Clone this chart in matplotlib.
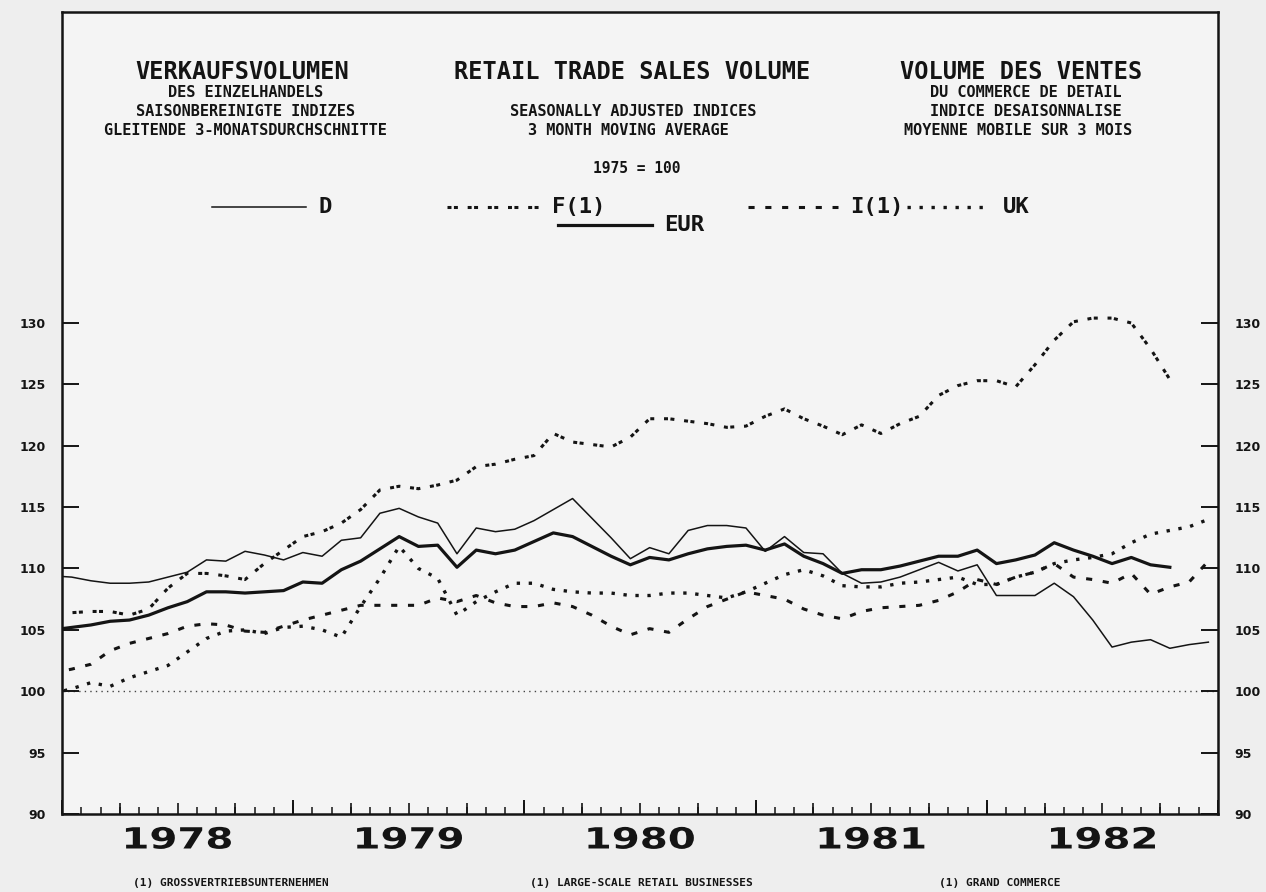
import numpy as np
import matplotlib
matplotlib.use("Agg")
import matplotlib.pyplot as plt
from matplotlib.lines import Line2D
from matplotlib.patheffects import AbstractPathEffect
from matplotlib.transforms import Affine2D

# ---------------- data (monthly, 3-month moving averages, 1975 = 100) ----------------
# first value = Dec 1977 (mid-month), then one value per month
year_labels = ["1978", "1979", "1980", "1981", "1982"]
y_ticks = [90, 95, 100, 105, 110, 115, 120, 125, 130]

D = [109.4, 109.3, 109.0, 108.8, 108.8, 108.9, 109.3, 109.7, 110.7, 110.6, 111.4, 111.1,
     110.7, 111.3, 111.0, 112.3, 112.5, 114.5, 114.9, 114.2, 113.7, 111.2, 113.3, 113.0,
     113.2, 113.9, 114.8, 115.7, 114.1, 112.5, 110.8, 111.7, 111.2, 113.1, 113.5, 113.5,
     113.3, 111.4, 112.6, 111.3, 111.2, 109.6, 108.8, 108.9, 109.3, 109.9, 110.5, 109.8,
     110.3, 107.8, 107.8, 107.8, 108.8, 107.7, 105.8, 103.6, 104.0, 104.2, 103.5, 103.8,
     104.0]

EUR = [105.0, 105.2, 105.4, 105.7, 105.8, 106.2, 106.8, 107.3, 108.1, 108.1, 108.0, 108.1,
       108.2, 108.9, 108.8, 109.9, 110.6, 111.6, 112.6, 111.8, 111.9, 110.1, 111.5, 111.2,
       111.5, 112.2, 112.9, 112.6, 111.8, 111.0, 110.3, 110.9, 110.7, 111.2, 111.6, 111.8,
       111.9, 111.5, 112.0, 111.0, 110.4, 109.6, 109.9, 109.9, 110.2, 110.6, 111.0, 111.0,
       111.5, 110.4, 110.7, 111.1, 112.1, 111.5, 111.0, 110.4, 110.9, 110.3, 110.1]

F1 = [106.5, 106.4, 106.5, 106.5, 106.2, 106.7, 108.4, 109.6, 109.6, 109.4, 109.1, 110.4,
      111.5, 112.6, 113.0, 113.7, 114.8, 116.4, 116.7, 116.5, 116.8, 117.2, 118.3, 118.5,
      118.9, 119.2, 121.0, 120.3, 120.1, 119.9, 120.7, 122.2, 122.2, 122.0, 121.8, 121.5,
      121.6, 122.4, 123.0, 122.2, 121.6, 120.9, 121.7, 121.0, 121.8, 122.4, 124.1, 124.9,
      125.3, 125.3, 124.8, 126.6, 128.6, 130.1, 130.4, 130.4, 130.0, 127.9, 125.4]

I1 = [101.5, 101.8, 102.2, 103.3, 103.9, 104.3, 104.7, 105.3, 105.5, 105.4, 104.9, 104.8,
      105.3, 105.8, 106.2, 106.6, 107.0, 107.0, 107.0, 107.0, 107.6, 107.3, 107.8, 107.2,
      106.9, 106.9, 107.2, 106.9, 106.2, 105.3, 104.6, 105.1, 104.8, 105.9, 106.9, 107.5,
      108.1, 107.8, 107.5, 106.7, 106.2, 105.9, 106.5, 106.8, 106.9, 107.0, 107.4, 108.1,
      109.1, 108.7, 109.3, 109.7, 110.4, 109.3, 109.1, 108.8, 109.6, 107.9, 108.5, 108.9,
      110.6]

UK = [99.8, 100.2, 100.7, 100.4, 101.1, 101.6, 102.1, 103.2, 104.3, 104.9, 105.0, 104.7,
      105.2, 105.3, 105.0, 104.4, 106.9, 109.2, 111.8, 110.0, 109.2, 106.2, 107.3, 108.1,
      108.8, 108.8, 108.3, 108.1, 108.0, 108.0, 107.8, 107.8, 108.0, 108.0, 107.8, 107.6,
      108.1, 108.8, 109.5, 109.9, 109.4, 108.6, 108.5, 108.5, 108.8, 108.9, 109.1, 109.3,
      108.7, 108.7, 109.3, 109.7, 110.4, 110.7, 110.9, 111.2, 112.1, 112.8, 113.1, 113.4,
      114.0]

BASE = 100


def months(vals):
    # month index: 0 = start of Jan 1978; values plotted mid-month starting Dec 1977
    return np.arange(len(vals)) - 0.5


class HStretch(AbstractPathEffect):
    """Stretch text horizontally about its centre."""
    def __init__(self, sx):
        super().__init__()
        self.sx = sx

    def draw_path(self, renderer, gc, tpath, affine, rgbFace=None):
        ext = tpath.get_extents(affine)
        cx = 0.5 * (ext.x0 + ext.x1)
        aff = affine + Affine2D().translate(-cx, 0).scale(self.sx, 1.0).translate(cx, 0)
        renderer.draw_path(gc, tpath, aff, rgbFace)


INK = "#141414"
MONO = "DejaVu Sans Mono"

styles = {
    "D": dict(color=INK, lw=1.1, ls="-"),
    "F(1)": dict(color=INK, lw=2.2, ls=(0, (1.3, 0.8, 1.3, 3.2))),
    "I(1)": dict(color=INK, lw=2.2, ls=(0, (2.0, 3.5))),
    "UK": dict(color=INK, lw=2.4, ls=(0, (1.0, 2.6))),
    "EUR": dict(color=INK, lw=2.3, ls="-"),
}

fig = plt.figure(figsize=(12.66, 8.92), dpi=100, facecolor="#eeeeee")
ax = fig.add_axes([62 / 1266, 78 / 892, 1156 / 1266, 802 / 892])
ax.set_facecolor("#f4f4f4")
ax.set_xlim(0, 60)
ax.set_ylim(90, 90 + 802 / 12.275)

for sp in ax.spines.values():
    sp.set_linewidth(1.8)
    sp.set_color(INK)

# reference line
ax.axhline(BASE, color="#444444", lw=1.0, ls=(0, (1, 3)), zorder=1)

# series
ax.plot(months(D), D, **styles["D"], zorder=3)
ax.plot(months(F1), F1, **styles["F(1)"], zorder=3)
ax.plot(months(I1), I1, **styles["I(1)"], zorder=3)
ax.plot(months(UK), UK, **styles["UK"], zorder=3)
ax.plot(months(EUR), EUR, **styles["EUR"], zorder=4)

# y axis
ax.set_yticks(y_ticks)
ax.set_yticklabels([str(v) for v in y_ticks])
ax.tick_params(axis="y", direction="in", length=12, width=1.4, pad=12,
               left=True, right=True, labelleft=True, labelright=True,
               labelsize=9, colors=INK)
for lbl in ax.get_yticklabels():
    lbl.set_fontweight("bold")

# x axis: years labelled at mid-year, monthly minor ticks
ax.set_xticks([6 + 12 * i for i in range(len(year_labels))])
ax.set_xticklabels(year_labels)
ax.set_xticks(np.arange(0, 61, 1), minor=True)
ax.tick_params(axis="x", which="major", length=0, pad=9, labelsize=21, colors=INK)
ax.tick_params(axis="x", which="minor", direction="in", length=5, width=1.1, color=INK)
for lbl in ax.get_xticklabels():
    lbl.set_fontweight("bold")
    lbl.set_path_effects([HStretch(1.38)])

sec_q = ax.secondary_xaxis("bottom")
sec_q.set_xticks(np.arange(0, 61, 3))
sec_q.tick_params(direction="in", length=8, width=1.2, labelbottom=False, color=INK)
sec_q.spines["bottom"].set_visible(False)
sec_y = ax.secondary_xaxis("bottom")
sec_y.set_xticks(np.arange(0, 61, 12))
sec_y.tick_params(direction="in", length=10, width=1.4, labelbottom=False, color=INK)
sec_y.spines["bottom"].set_visible(False)

# titles
def atext(x, y, s, size, **kw):
    ax.text(x, y, s, transform=ax.transAxes, ha="center", va="center",
            family=MONO, fontweight="bold", fontsize=size, color=INK, **kw)

atext(0.156, 0.925, "VERKAUFSVOLUMEN", 17)
atext(0.159, 0.900, "DES EINZELHANDELS", 11)
atext(0.159, 0.876, "SAISONBEREINIGTE INDIZES", 11)
atext(0.159, 0.852, "GLEITENDE 3-MONATSDURCHSCHNITTE", 11)

atext(0.493, 0.925, "RETAIL TRADE SALES VOLUME", 17)
atext(0.494, 0.876, "SEASONALLY ADJUSTED INDICES", 11)
atext(0.490, 0.852, "3 MONTH MOVING AVERAGE", 11)
atext(0.497, 0.805, "1975 = 100", 10.5)

atext(0.830, 0.925, "VOLUME DES VENTES", 17)
atext(0.834, 0.900, "DU COMMERCE DE DETAIL", 11)
atext(0.834, 0.876, "INDICE DESAISONNALISE", 11)
atext(0.827, 0.852, "MOYENNE MOBILE SUR 3 MOIS", 11)

# legend (hand placed as in the original)
legend_items = [
    ("D", 0.130, 0.211, 0.757),
    ("F(1)", 0.333, 0.413, 0.757),
    ("I(1)", 0.593, 0.671, 0.757),
    ("UK", 0.731, 0.803, 0.757),
    ("EUR", 0.429, 0.510, 0.734),
]
for name, x0, x1, yy in legend_items:
    ax.add_line(Line2D([x0, x1], [yy, yy], transform=ax.transAxes, **styles[name]))
    ax.text(x1 + 0.011, yy, name, transform=ax.transAxes, ha="left", va="center",
            family=MONO, fontweight="bold", fontsize=16, color=INK)

# footnotes
foot = [
    (0.182, "(1) GROSSVERTRIEBSUNTERNEHMEN"),
    (0.507, "(1) LARGE-SCALE RETAIL BUSINESSES"),
    (0.790, "(1) GRAND COMMERCE"),
]
for fx, s in foot:
    fig.text(fx, 0.010, s, ha="center", va="center", family=MONO,
             fontweight="bold", fontsize=8, color=INK)

fig.savefig("out.png", dpi=100, facecolor=fig.get_facecolor())
